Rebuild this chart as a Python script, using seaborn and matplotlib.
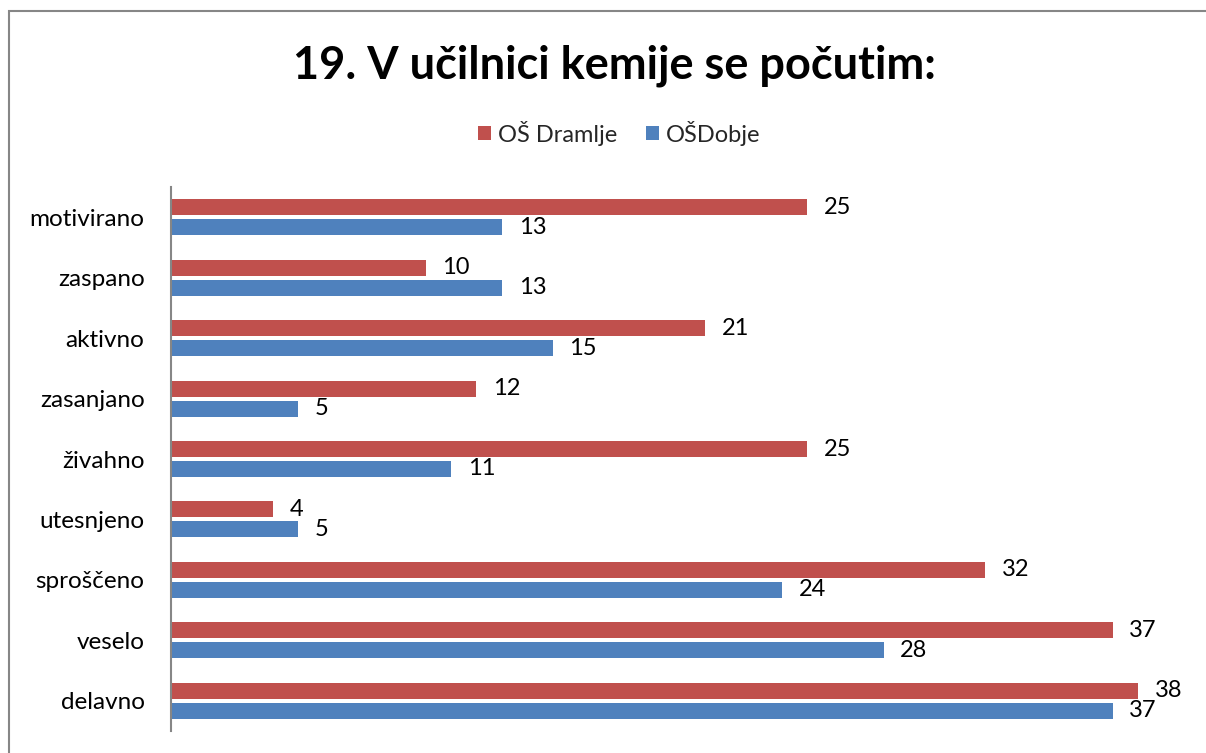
import matplotlib
matplotlib.use("Agg")
import matplotlib.pyplot as plt
import seaborn as sns
import pandas as pd
from matplotlib.patches import Rectangle

categories = ["motivirano", "zaspano", "aktivno", "zasanjano", "živahno",
              "utesnjeno", "sproščeno", "veselo", "delavno"]
series_names = ["OŠ Dramlje", "OŠDobje"]
dramlje = [25, 10, 21, 12, 25, 4, 32, 37, 38]
dobje = [13, 13, 15, 5, 11, 5, 24, 28, 37]
title = "19. V učilnici kemije se počutim:"

colors = {"OŠ Dramlje": "#C0504D", "OŠDobje": "#4F81BD"}

df = pd.DataFrame({
    "kategorija": categories * 2,
    "vrednost": dramlje + dobje,
    "sola": [series_names[0]] * len(categories) + [series_names[1]] * len(categories),
})

sns.set_theme(style="white")
plt.rcParams["font.family"] = ["Lato", "DejaVu Sans"]

fig = plt.figure(figsize=(12.06, 7.53), dpi=100)
ax = fig.add_axes([171/1206, 1-731/753, (1189-171)/1206, (731-187)/753])

sns.barplot(data=df, x="vrednost", y="kategorija", hue="sola", orient="h",
            hue_order=series_names, order=categories, palette=colors,
            width=0.66, gap=0.2, ax=ax, legend=True, saturation=1,
            edgecolor="none")

for cont in ax.containers:
    ax.bar_label(cont, padding=12, fontsize=17, color="black")

ax.set_xlim(0, 40)
ax.set_ylim(len(categories) - 0.5, -0.5)
ax.set_xlabel("")
ax.set_ylabel("")
ax.set_xticks([])
ax.tick_params(axis="y", length=0, pad=19, labelsize=17.5, labelcolor="black")
for s in ["top", "right", "bottom"]:
    ax.spines[s].set_visible(False)
ax.spines["left"].set_color("#868686")
ax.spines["left"].set_linewidth(1.5)

leg = ax.legend(loc="center", bbox_to_anchor=(619/1206, 1-133/753),
                bbox_transform=fig.transFigure, ncol=2, frameon=False,
                fontsize=17, handlelength=0.55, handleheight=0.55,
                handletextpad=0.3, columnspacing=1.2)

fig.text(614/1206, 1-66/753, title, ha="center", va="center",
         fontsize=32.5, fontweight="bold", color="black")

fig.patches.append(Rectangle((9/1206, -0.1), 1.2, (1-11/753) + 0.1,
                             transform=fig.transFigure, fill=False,
                             edgecolor="#868686", linewidth=1.5))

fig.savefig("out.png", dpi=100)
